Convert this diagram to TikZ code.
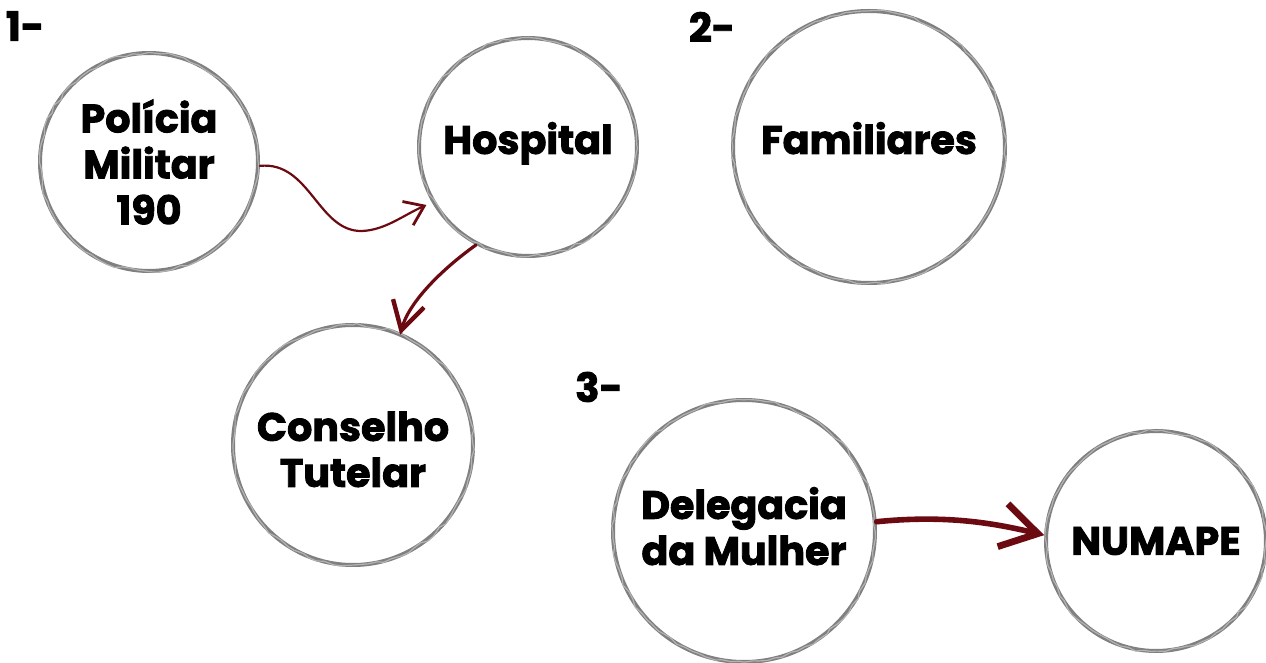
\documentclass[tikz,border=0pt]{standalone}
\usepackage{fontspec}
\setmainfont{Poppins}[BoldFeatures={FakeBold=2.2}]
\usepackage{tikz}
\usetikzlibrary{arrows.meta, decorations.pathmorphing, calc, positioning}

\definecolor{vinho}{HTML}{6B0A10}
\definecolor{giz}{HTML}{808080}

\tikzset{
  roda/.style={circle, draw=giz, line width=2pt, align=center,
    font=\fontsize{19.8pt}{23pt}\selectfont\bfseries, inner sep=0pt,
    postaction={draw=giz!60, line width=0.6pt, decorate,
      decoration={random steps, segment length=4pt, amplitude=0.8pt}}},
  passo/.style={font=\fontsize{20pt}{23pt}\selectfont\bfseries},
  seta/.style={draw=vinho, line cap=round}
}

\begin{document}
\begin{tikzpicture}[x=0.5pt, y=-0.5pt]
	\pgfmathsetseed{7}
	\useasboundingbox (0,0) rectangle (1266,663);

	% etapas
	\node[passo] (um) at (25,26) {1-};
	\node[passo] (dois) at (712,27) {2-};
	\node[passo] (tres) at (599,387) {3-};

	% rodas
	\node[roda, minimum size=109pt] (policia) at (149,162) {Polícia\\Militar\\190};
	\node[roda, minimum size=109pt] (hospital) at (528,147) {\raisebox{9pt}{Hospital}};
	\node[roda, minimum size=136pt] (familia) at (869,147) {\raisebox{9pt}{Familiares}};
	\node[roda, minimum size=120pt] (conselho) at (353,445) {\\[-4pt]Conselho\\Tutelar};
	\node[roda, minimum size=131pt] (delegacia) at (744,531) {Delegacia\\da Mulher\\[-18pt]};
	\node[roda, minimum size=110pt] (numape) at (1156,541) {NUMAPE};

	% setas
	\draw[seta, line width=1.1pt, -{Straight Barb[length=9pt, width=13pt, line width=1.4pt]}, shorten >=3pt]
		(policia.-2) .. controls ++(50,-5) and (318,232) .. (362,231)
		.. controls (385,230) and (402,216) .. (hospital.210);
	\draw[seta, line width=1.6pt, -{Straight Barb[length=14pt, width=16pt, line width=2.2pt]}, shorten >=-1pt]
		(hospital.242) .. controls ++(-35,25) and ++(8,-30) .. (conselho.67);
	\draw[seta, line width=2.8pt, -{Straight Barb[length=18pt, width=22pt, line width=3.4pt]}]
		(delegacia.4) .. controls ++(70,-7) and ++(-50,-12) .. (numape.177);
\end{tikzpicture}
\end{document}
